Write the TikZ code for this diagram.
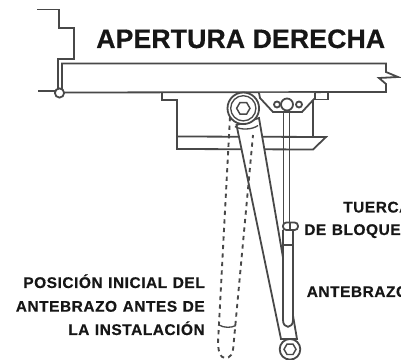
\documentclass[tikz,border=0pt]{standalone}
\usepackage{fontspec}
\setmainfont{Liberation Sans}
\newfontfamily\titlefont{Liberation Sans}[UprightFont=* Bold,FakeBold=0.5,LetterSpace=0.4]
\newfontfamily\labelfont{Liberation Sans}[UprightFont=* Bold,FakeBold=0.5,LetterSpace=3.4,WordSpace=1.15]
\usetikzlibrary{shapes.geometric}
\definecolor{linegray}{HTML}{484848}
\definecolor{textblack}{HTML}{161616}
\tikzset{
	part/.style={draw=linegray,line width=1.35pt,line join=miter},
	thin part/.style={draw=linegray,line width=1pt},
	ghost/.style={draw=linegray,line width=1.4pt,dash pattern=on 3.2pt off 3.2pt},
	label/.style={font=\labelfont\fontsize{11.6}{14}\selectfont,text=textblack,inner sep=0pt},
	bolt/.style={draw=linegray,line width=1.1pt,fill=white,regular polygon,regular polygon sides=6,inner sep=0pt}
}
\begin{document}
\begin{tikzpicture}[x=0.75pt,y=-0.75pt]
	
	%\draw[help lines] (0,0) grid (401,360);
	\useasboundingbox (0,0) rectangle (401,360);
	
	% wall
	\draw[part] (37,9.5) -- (59,9.5) -- (59,28) -- (74,28) -- (74,59) -- (58,59) -- (58,90);
	\draw[thin part] (38,91) -- (55,91);
	
	% door
	\draw[part] (62,90) -- (62,63.5) -- (386,63.5) -- (386,72) -- (398,77) -- (379,78) -- (386,84) -- (386,92) -- (64,92.5);
	\draw[part,fill=white] (59.5,93) circle (4.6);
	
	% plate and body
	\draw[part] (162,93) -- (162,100) -- (177,100) -- (177,149) -- (313,149.5) -- (326,137) -- (177,136.5);
	\draw[part] (313,93) -- (313,137);
	\draw[part] (315,93) -- (315,99.5) -- (328,99.5) -- (328,93);
	
	% bracket
	\draw[part,fill=white] (259,93) -- (260,98) -- (273,112) -- (302,112) -- (315,98) -- (315,93);
	\draw[part] (283.5,112) -- (283.5,225);
	\draw[part] (289.5,112) -- (289.5,225);
	\draw[part,fill=white] (287,104.5) circle (6);
	\draw[part,fill=white] (277,104.5) circle (3);
	\draw[part,fill=white] (299,104.5) circle (3);
	
	% arm
	\draw[part,fill=white] (236.5,125) -- (281,339) -- (297,339) -- (259,118) -- cycle;
	\draw[part,fill=white] (243.3,108.3) circle (15.8);
	\draw[thin part] (243.3,108.3) circle (12.6);
	\node[bolt,minimum size=10pt] (armbolt) at (243.3,108.3) {};
	\draw[thin part] (235,126.5) .. controls (240,130) and (252,130) .. (258,125.5);
	\draw[part,fill=white] (290,349.3) circle (10.3);
	\node[bolt,minimum size=9pt] (endbolt) at (290,349.3) {};
	
	% forearm tube and nut
	\draw[part,fill=white] (283,230) -- (283,320) .. controls (283,329) and (293,329) .. (293,320) -- (293,230);
	\draw[part] (283,245) -- (293,245);
	\draw[part,fill=white,rounded corners=2.5pt] (283,222.5) rectangle (298,230);
	\draw[thin part] (290,222.5) -- (290,230);
	
	% first position
	\draw[ghost] (230,117) -- (218.3,337) .. controls (217,352) and (221,358) .. (225,358) .. controls (230,358) and (233,355) .. (233.5,345) -- (253,135);
	\draw[thin part] (219,325) .. controls (224,328) and (231,328) .. (236,325.5);
	
	\node[label,font=\titlefont\fontsize{20}{24}\selectfont,anchor=base west] (title) at (96,48) {APERTURA DERECHA};
	\node[label,anchor=base west] (nut1) at (343,212.5) {TUERCA};
	\node[label,anchor=base west] (nut2) at (304,235) {DE BLOQUEO};
	\node[label,anchor=base west] (forearm) at (306.5,297) {ANTEBRAZO};
	\node[label,anchor=base east] (first1) at (205,288) {POSICIÓN INICIAL DEL};
	\node[label,anchor=base east] (first2) at (205,311.7) {ANTEBRAZO ANTES DE};
	\node[label,anchor=base east] (first3) at (205,335) {LA INSTALACIÓN};
	
\end{tikzpicture}
\end{document}
